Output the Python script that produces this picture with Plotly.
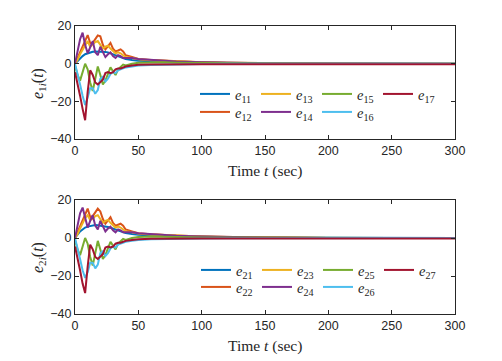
import plotly.graph_objects as go

# time samples (sec)
t = [0, 2, 4, 6, 8, 10, 12, 14, 16, 18, 20, 22, 24, 26, 28, 30, 32, 34, 36, 38, 40,
     45, 50, 60, 70, 80, 100, 120, 150, 200, 250, 300]

# top panel e_1i
e11 = [0, 1.5, 3, 4, 5, 5.5, 6, 6.3, 6.5, 6.5, 6.4, 6.5, 6.2, 6, 5.5, 5, 4.5, 4, 3.5, 3, 2.5,
       2, 1.6, 1.3, 1.1, 0.9, 0.6, 0.4, 0.2, 0.05, 0, 0]
e12 = [0, 3, 6, 9, 12.5, 15.2, 11, 11, 13, 15, 14.5, 10, 7.5, 9, 11, 8, 6.5, 7, 7.6, 6.5, 4.5,
       3.5, 2.5, 2, 1.6, 1.3, 0.8, 0.5, 0.2, 0.05, 0, 0]
e13 = [0, 2, 5, 7.5, 10, 12, 9, 10, 11.5, 12, 10, 8, 9, 9.5, 8, 6.5, 5.5, 6, 5.5, 4.5, 3.5,
       3, 2.3, 1.8, 1.5, 1.2, 0.8, 0.5, 0.2, 0.05, 0, 0]
e14 = [0, 6, 13, 16.5, 10, 5.5, 9, 12, 6, 4.5, 9, 6, 3.5, 5, 6, 4, 3, 4.5, 4, 3, 3,
       3, 2.5, 2, 1.6, 1.2, 0.8, 0.5, 0.2, 0.05, 0, 0]
e15 = [-1, -6, -9, -4, 0, -3, -10, -14.5, -7, -1.5, -6, -11, -9, -5, -2, -4, -6, -3, -1.5, -0.5, -1,
       0, 0.5, 0.8, 0.7, 0.5, 0.3, 0.2, 0.1, 0, 0, 0]
e16 = [0, -5, -11, -17, -22, -18, -13, -13, -16, -14, -8, -7, -9.5, -8, -5.5, -4.5, -5, -3.5, -3, -2.5, -2,
       -1.5, -1, -0.7, -0.5, -0.4, -0.2, -0.1, 0, 0, 0, 0]
e17 = [-4.5, -10, -17, -24, -30, -15, -3.5, -6, -10, -11, -9.5, -8.5, -5, -4.5, -5, -4.5, -3, -2.5, -2.5, -2, -1.5,
       -1, -0.6, -0.4, -0.3, -0.3, -0.3, -0.3, -0.3, -0.3, -0.3, -0.3]

# bottom panel e_2i
e21 = [0, 2, 3.5, 4.5, 5.5, 6, 6.3, 6.6, 6.8, 6.7, 6.5, 6.4, 6.2, 5.8, 5.4, 5, 4.5, 4, 3.6, 3.1, 2.6,
       2.1, 1.7, 1.3, 1.1, 0.9, 0.6, 0.4, 0.2, 0.05, 0, 0]
e22 = [0, 3, 6.5, 9.5, 12.5, 15.5, 11, 11.5, 13.5, 15.5, 14, 10, 7.5, 9, 11, 8, 6.5, 7, 7.5, 6.5, 4.5,
       3.5, 2.5, 2, 1.6, 1.3, 0.8, 0.5, 0.2, 0.05, 0, 0]
e23 = [0, 2, 5, 8, 10.5, 12, 9.5, 10, 11.5, 12, 10, 8, 9, 9.5, 8, 6.5, 5.5, 6, 5.5, 4.5, 3.5,
       3, 2.3, 1.8, 1.5, 1.2, 0.8, 0.5, 0.2, 0.05, 0, 0]
e24 = [0, 6, 13, 16, 10, 5.5, 9, 12, 6.5, 4.5, 9, 6, 3.5, 5, 6, 4, 3, 4.5, 4, 3, 3,
       3, 2.5, 2, 1.6, 1.2, 0.8, 0.5, 0.2, 0.05, 0, 0]
e25 = [-1, -6, -9, -4, 0, -3, -10, -14.5, -7, -1.5, -6, -11, -9, -5, -2, -4, -6, -3, -1.5, -0.5, -1,
       0, 0.5, 0.8, 0.7, 0.5, 0.3, 0.2, 0.1, 0, 0, 0]
e26 = [0, -5, -11, -17, -21, -18, -13, -13, -16, -14, -8, -7, -9.5, -8, -5.5, -4.5, -5, -3.5, -3, -2.5, -2,
       -1.5, -1, -0.7, -0.5, -0.4, -0.2, -0.1, 0, 0, 0, 0]
e27 = [-4.5, -10, -17, -24, -29, -15, -3.5, -6, -10, -11, -9.5, -8.5, -5, -4.5, -5, -4.5, -3, -2.5, -2.5, -2, -1.5,
       -1, -0.6, -0.4, -0.3, -0.3, -0.3, -0.3, -0.3, -0.3, -0.3, -0.3]

x_ticks = [0, 50, 100, 150, 200, 250, 300]
y_ticks = [-40, -20, 0, 20]

colors = ["#0072BD", "#D95319", "#EDB120", "#7E2F8E", "#77AC30", "#4DBEEE", "#A2142F"]
top_series = [e11, e12, e13, e14, e15, e16, e17]
bot_series = [e21, e22, e23, e24, e25, e26, e27]
top_names = ["11", "12", "13", "14", "15", "16", "17"]
bot_names = ["21", "22", "23", "24", "25", "26", "27"]

W, H = 502, 361
fig = go.Figure()

def add_panel(series, names, xa, ya, leg_a, leg_b):
    for i, (vals, nm) in enumerate(zip(series, names)):
        fig.add_trace(go.Scatter(
            x=t, y=vals, mode="lines", name="<i>e</i><sub>%s</sub>" % nm,
            line=dict(color=colors[i], width=2),
            xaxis=xa, yaxis=ya, legend=(leg_a if i % 2 == 0 else leg_b),
            hoverinfo="skip"))

add_panel(top_series, top_names, "x", "y", "legend", "legend2")
add_panel(bot_series, bot_names, "x2", "y2", "legend3", "legend4")

xdom = [75 / W, 455 / W]
ydom_top = [1 - 139 / H, 1 - 26 / H]
ydom_bot = [1 - 314 / H, 1 - 200 / H]

axis_common = dict(
    showline=True, linecolor="#262626", linewidth=1, mirror="ticks",
    ticks="inside", ticklen=4, tickcolor="#262626", showgrid=False, zeroline=False,
    tickfont=dict(family="Liberation Sans, Arial", size=12.5, color="#262626"),
)

fig.update_layout(
    width=W, height=H, margin=dict(l=0, r=0, t=0, b=0, autoexpand=False),
    paper_bgcolor="white", plot_bgcolor="white", showlegend=True,
    xaxis=dict(domain=xdom, anchor="y", range=[0, 300], tickvals=x_ticks, **axis_common),
    yaxis=dict(domain=ydom_top, anchor="x", range=[-40, 20], tickvals=y_ticks, **axis_common),
    xaxis2=dict(domain=xdom, anchor="y2", range=[0, 300], tickvals=x_ticks, **axis_common),
    yaxis2=dict(domain=ydom_bot, anchor="x2", range=[-40, 20], tickvals=y_ticks, **axis_common),
)

leg_font = dict(family="Liberation Serif", size=14.5, color="#262626")
leg_common = dict(orientation="h", xanchor="left", yanchor="middle", bgcolor="rgba(255,255,255,0)",
                  borderwidth=0, entrywidth=16, entrywidthmode="pixels", font=leg_font,
                  xref="container", yref="container")
fig.update_layout(
    legend=dict(x=195 / W, y=1 - 94 / H, **leg_common),
    legend2=dict(x=195 / W, y=1 - 112 / H, **leg_common),
    legend3=dict(x=196 / W, y=1 - 270 / H, **leg_common),
    legend4=dict(x=196 / W, y=1 - 287 / H, **leg_common),
)

title_font = dict(family="Liberation Serif", size=15.5, color="#262626")
ylab_font = dict(family="Liberation Serif", size=16, color="#262626")
annos = [
    dict(text="Time <i>t</i> (sec)", x=265 / W, y=1 - 171 / H, font=title_font),
    dict(text="Time <i>t</i> (sec)", x=265 / W, y=1 - 346 / H, font=title_font),
    dict(text="<i>e</i><sub>1<i>i</i></sub>(<i>t</i>)", x=38 / W, y=1 - 84 / H, textangle=-90, font=ylab_font),
    dict(text="<i>e</i><sub>2<i>i</i></sub>(<i>t</i>)", x=38 / W, y=1 - 258 / H, textangle=-90, font=ylab_font),
]
for a in annos:
    fig.add_annotation(xref="paper", yref="paper", showarrow=False, xanchor="center",
                       yanchor="middle", **a)

fig.write_html(
    "out.html",
    config={"displayModeBar": False},
    post_script="document.body.style.margin='0px';document.body.style.overflow='hidden';"
                "document.documentElement.style.overflow='hidden';",
)
